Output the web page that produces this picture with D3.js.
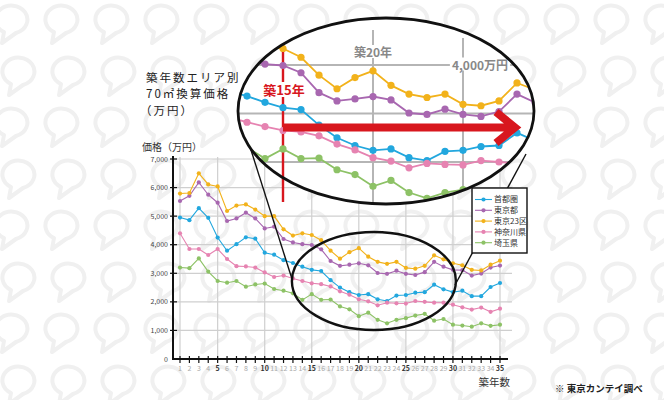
<!DOCTYPE html>
<html>
<head>
<meta charset="utf-8">
<script src="https://cdn.jsdelivr.net/npm/d3@7"></script>
<style>
  body { margin: 0; background: #fff; }
  svg { display: block; font-family: "Noto Sans CJK JP", "Noto Sans", sans-serif; }
</style>
</head>
<body>
<div id="chart"></div>
<script>
// 築年数 (years since built)
const years = [1,2,3,4,5,6,7,8,9,10,11,12,13,14,15,16,17,18,19,20,21,22,23,24,25,26,27,28,29,30,31,32,33,34,35];

// 70㎡換算価格 (万円)
const shutoken = [4950,4860,5280,4940,4250,3790,4020,4260,4210,3720,3650,3460,3360,3230,3120,3080,2760,2500,2340,2240,2270,2090,2030,2220,2240,2320,2340,2600,2440,2340,2390,2200,2200,2520,2660];
const tokyoto  = [5530,5710,6180,5750,5470,4830,4920,5120,4920,4570,4630,4200,4080,4020,3990,3840,3430,3260,3300,3350,3280,3010,2980,3090,2980,2940,3040,3400,3230,3120,3110,2920,2990,3200,3270];
const ku23     = [5790,5810,6500,6110,6040,5180,5370,5410,5230,5000,5000,4540,4320,4400,4340,4160,3790,3510,3740,3880,3580,3400,3330,3400,3190,3160,3260,3630,3490,3350,3280,3120,3100,3300,3440];
const kanagawa = [4400,3850,3850,3640,3850,3500,3250,3240,3200,3030,2870,2920,2820,2730,2650,2620,2540,2370,2250,2090,2020,1880,1970,1950,1940,2030,2000,1970,1970,1900,1810,1730,1800,1650,1760];
const saitama  = [3200,3180,3520,3060,2730,2670,2730,2530,2610,2640,2450,2390,2300,2070,2270,2070,2080,1840,1740,1500,1620,1370,1250,1370,1430,1520,1580,1340,1400,1200,1170,1130,1250,1160,1200];

const seriesNames = ["首都圏", "東京都", "東京23区", "神奈川県", "埼玉県"];
const seriesValues = [shutoken, tokyoto, ku23, kanagawa, saitama];
const seriesColors = ["#22a7de", "#a867b0", "#f2b21b", "#e683b1", "#8dc266"];

const yTicks = [0, 1000, 2000, 3000, 4000, 5000, 6000, 7000];
const yGrid = [1000, 2000, 3000, 4000, 5000, 6000, 7000];
const xGrid = [1, 5, 10, 15, 20, 25, 30, 35];
const boldYears = [5, 10, 15, 20, 25, 30, 35];

const width = 664, height = 400;
const svg = d3.select("#chart").append("svg")
    .attr("width", width)
    .attr("height", height);

// background watermark
const defs = svg.append("defs");
const pat = defs.append("pattern")
    .attr("id", "wm")
    .attr("patternUnits", "userSpaceOnUse")
    .attr("width", 50).attr("height", 103);
[[13, 20], [20, 72]].forEach(function(c) {
    [0, -50, 50].forEach(function(dx) {
        const g = pat.append("g").attr("transform", "translate(" + (c[0] + dx) + "," + c[1] + ")");
        g.append("path")
            .attr("d", "M-9,12 A16,14 0 1,1 3,13 L-11,23 Z")
            .attr("fill", "none").attr("stroke", "#f0f0f0").attr("stroke-width", 4)
            .attr("stroke-linejoin", "round");
    });
});
svg.append("rect").attr("width", width).attr("height", height).attr("fill", "url(#wm)");

// main scales
const x = d3.scaleLinear().domain([1, 35]).range([180, 500]);
const y = d3.scaleLinear().domain([0, 7000]).range([359, 159]);

const main = svg.append("g");

main.selectAll(".hgrid").data(yGrid).enter().append("line")
    .attr("x1", x(1) - 7).attr("x2", x(35) + 12)
    .attr("y1", d => y(d)).attr("y2", d => y(d))
    .attr("stroke", "#cfcfcf").attr("stroke-width", 1.2);

main.selectAll(".vgrid").data(xGrid).enter().append("line")
    .attr("x1", d => x(d)).attr("x2", d => x(d))
    .attr("y1", y(7000) - 2).attr("y2", y(0))
    .attr("stroke", "#cfcfcf").attr("stroke-width", 1.2);

// axes
main.append("line")
    .attr("x1", x(1) - 7).attr("x2", x(1) - 7)
    .attr("y1", y(7000) - 3).attr("y2", y(0))
    .attr("stroke", "#111").attr("stroke-width", 2);
main.append("line")
    .attr("x1", x(1) - 8).attr("x2", x(35) + 8)
    .attr("y1", y(0)).attr("y2", y(0))
    .attr("stroke", "#111").attr("stroke-width", 2);

main.selectAll(".ytick").data(yTicks.slice(1)).enter().append("line")
    .attr("x1", x(1) - 10).attr("x2", x(1) - 3)
    .attr("y1", d => y(d)).attr("y2", d => y(d))
    .attr("stroke", "#111").attr("stroke-width", 1.2);

main.selectAll(".ylab").data(yTicks).enter().append("text")
    .attr("x", x(1) - 12)
    .attr("y", d => y(d) + 2.5)
    .attr("text-anchor", "end")
    .attr("font-size", 7)
    .attr("fill", "#444")
    .text(d => d3.format(",")(d));

main.selectAll(".xtick").data(years).enter().append("line")
    .attr("x1", d => x(d)).attr("x2", d => x(d))
    .attr("y1", y(0) - 3).attr("y2", y(0) + 4)
    .attr("stroke", "#111").attr("stroke-width", 1.2);

main.selectAll(".xlab").data(years).enter().append("text")
    .attr("x", d => x(d))
    .attr("y", y(0) + 11.5)
    .attr("text-anchor", "middle")
    .attr("font-size", 7)
    .attr("font-weight", d => boldYears.includes(d) ? "bold" : "normal")
    .attr("fill", d => boldYears.includes(d) ? "#333" : "#aaa")
    .text(d => d);

main.append("text")
    .attr("x", 142).attr("y", 150.5)
    .attr("font-size", 10).attr("fill", "#333")
    .text("価格（万円）");

main.append("text")
    .attr("x", 510).attr("y", 386)
    .attr("text-anchor", "end")
    .attr("font-size", 10.5).attr("fill", "#333")
    .text("築年数");

// series
function drawSeries(g, xs, ys, lw, r) {
    seriesValues.forEach(function(vals, i) {
        const line = d3.line().x((d, j) => xs(years[j])).y(d => ys(d));
        g.append("path")
            .datum(vals)
            .attr("d", line)
            .attr("fill", "none")
            .attr("stroke", seriesColors[i])
            .attr("stroke-width", lw);
        g.selectAll(".dot" + i).data(vals).enter().append("circle")
            .attr("cx", (d, j) => xs(years[j]))
            .attr("cy", d => ys(d))
            .attr("r", r)
            .attr("fill", seriesColors[i]);
    });
}
drawSeries(main, x, y, 1.1, 2.1);

// small ellipse around the focus area
const focusYear = 21.6, focusValue = 2730;
main.append("ellipse")
    .attr("cx", x(focusYear)).attr("cy", y(focusValue))
    .attr("rx", 82).attr("ry", 49)
    .attr("fill", "none").attr("stroke", "#111").attr("stroke-width", 2.4);

// connector lines to the magnifier
svg.append("line")
    .attr("x1", 244).attr("y1", 128).attr("x2", 292).attr("y2", 279)
    .attr("stroke", "#111").attr("stroke-width", 1.4);
svg.append("line")
    .attr("x1", 526).attr("y1", 154).attr("x2", 455).attr("y2", 285)
    .attr("stroke", "#111").attr("stroke-width", 1.4);

// magnifier
const mag = {cx: 386, cy: 111, rx: 148, ry: 93};
defs.append("clipPath").attr("id", "magclip")
    .append("ellipse")
    .attr("cx", mag.cx).attr("cy", mag.cy).attr("rx", mag.rx).attr("ry", mag.ry);

svg.append("ellipse")
    .attr("cx", mag.cx).attr("cy", mag.cy).attr("rx", mag.rx).attr("ry", mag.ry)
    .attr("fill", "#fff");

const xm = d3.scaleLinear().domain([20, 25]).range([373, 463]);
const ym = d3.scaleLinear().domain([3000, 4000]).range([113.5, 65]);

const mg = svg.append("g").attr("clip-path", "url(#magclip)");

mg.selectAll(".mh").data([2000, 3000, 4000, 5000]).enter().append("line")
    .attr("x1", mag.cx - mag.rx).attr("x2", mag.cx + mag.rx)
    .attr("y1", d => ym(d)).attr("y2", d => ym(d))
    .attr("stroke", "#b5b5b5").attr("stroke-width", 2);
mg.selectAll(".mv").data([20, 25]).enter().append("line")
    .attr("x1", d => xm(d)).attr("x2", d => xm(d))
    .attr("y1", d => d === 25 ? 38 : 30).attr("y2", mag.cy + mag.ry)
    .attr("stroke", "#b5b5b5").attr("stroke-width", 2);

// 築15年 marker line
mg.append("line")
    .attr("x1", xm(15)).attr("x2", xm(15))
    .attr("y1", 43).attr("y2", mag.cy + mag.ry)
    .attr("stroke", "#d8171e").attr("stroke-width", 2.4);
svg.append("line")
    .attr("x1", xm(15)).attr("x2", xm(15))
    .attr("y1", mag.cy + mag.ry - 2).attr("y2", 178)
    .attr("stroke", "#d8171e").attr("stroke-width", 2.4);

// labels on the magnified grid, with a white backing
function labelBox(g, tx, ty, txt, color, size) {
    const t = g.append("text")
        .attr("x", tx).attr("y", ty)
        .attr("text-anchor", "middle")
        .attr("font-size", size).attr("font-weight", "bold")
        .attr("fill", color)
        .text(txt);
    const b = t.node().getBBox();
    g.insert("rect", "text")
        .attr("x", b.x - 2).attr("y", b.y + 2).attr("width", b.width + 4).attr("height", b.height - 4)
        .attr("fill", "#fff");
}
labelBox(mg.append("g"), xm(20), ym(4000) - 8, "築20年", "#888", 12);
labelBox(mg.append("g"), 480, ym(4000) + 4.5, "4,000万円", "#888", 12);
labelBox(mg.append("g"), xm(15) + 1, 95, "築15年", "#d8171e", 13);

drawSeries(mg, xm, ym, 1.8, 3.6);

svg.append("path")
    .attr("d", "M" + xm(15) + ",127.5 H514 M496,112 L515,127.5 L496,143")
    .attr("fill", "none")
    .attr("stroke", "#d8171e")
    .attr("stroke-width", 8);

svg.append("ellipse")
    .attr("cx", mag.cx).attr("cy", mag.cy).attr("rx", mag.rx).attr("ry", mag.ry)
    .attr("fill", "none").attr("stroke", "#111").attr("stroke-width", 2.8);

// legend
const legend = svg.append("g");
legend.append("rect")
    .attr("x", 472).attr("y", 188).attr("width", 55).attr("height", 65)
    .attr("fill", "#fff").attr("stroke", "#111").attr("stroke-width", 1.4);
const items = legend.selectAll(".item").data(seriesNames).enter().append("g")
    .attr("transform", (d, i) => "translate(0," + (199.5 + i * 10.8) + ")");
items.append("line")
    .attr("x1", 475).attr("x2", 492)
    .attr("stroke", (d, i) => seriesColors[i]).attr("stroke-width", 1.1);
items.append("circle")
    .attr("cx", 483.5).attr("r", 2.1)
    .attr("fill", (d, i) => seriesColors[i]);
items.append("text")
    .attr("x", 494).attr("dy", "0.35em")
    .attr("font-size", 8).attr("fill", "#333")
    .text(d => d);

// title
const title = ["築年数エリア別", "70㎡換算価格", "（万円）"];
svg.selectAll(".title").data(title).enter().append("text")
    .attr("x", d => d.startsWith("（") ? 140 : 146)
    .attr("y", (d, i) => 81.5 + i * 16.7)
    .attr("font-size", 11.5).attr("letter-spacing", 2).attr("fill", "#222")
    .text(d => d);

svg.append("text")
    .attr("x", 555).attr("y", 392)
    .attr("font-size", 9.5).attr("font-weight", "bold").attr("fill", "#222")
    .text("※ 東京カンテイ調べ");
</script>
</body>
</html>
